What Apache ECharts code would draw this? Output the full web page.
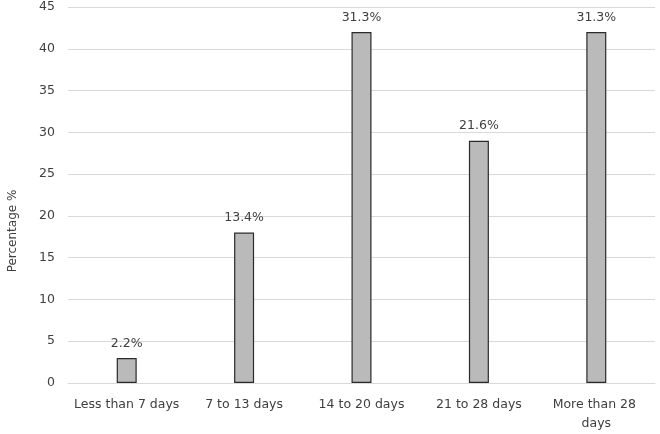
<!DOCTYPE html>
<html>

<head>
	<meta charset="utf-8" />
	<title>Percentage by duration</title>
	<script src="https://cdn.jsdelivr.net/npm/echarts@6/dist/echarts.min.js"></script>
	<style>
		* {
			margin: 0;
			padding: 0;
		}

		html,
		body {
			width: 660px;
			height: 434px;
			background: #fff;
		}

		#main {
			width: 660px;
			height: 434px;
		}
	</style>
</head>

<body>
	<div id="main"></div>
	<script>
		// 数据
		var categories = ['Less than 7 days', '7 to 13 days', '14 to 20 days', '21 to 28 days', 'More than 28 days'];
		var barValues = [3, 18, 42, 29, 42];
		var barLabels = ['2.2%', '13.4%', '31.3%', '21.6%', '31.3%'];
		var yTicks = [0, 45, 5]; // min, max, interval

		var myChart = echarts.init(document.getElementById('main'));
		var font = 'DejaVu Sans';

		var option = {
			animation: false,
			grid: {
				left: 68,
				right: 5,
				top: 7,
				bottom: 51,
				outerBoundsMode: 'none',
				containLabel: false
			},
			xAxis: {
				type: 'category',
				data: categories,
				axisTick: { show: false },
				axisLine: { lineStyle: { color: '#d9d9d9', width: 1 } },
				axisLabel: {
					interval: 0,
					color: '#404040',
					fontFamily: font,
					fontSize: 12.5,
					margin: 12,
					width: 110,
					overflow: 'break',
					lineHeight: 19
				}
			},
			yAxis: {
				type: 'value',
				min: yTicks[0],
				max: yTicks[1],
				interval: yTicks[2],
				name: 'Percentage %',
				nameLocation: 'middle',
				nameGap: 49,
				nameMoveOverlap: false,
				nameTextStyle: {
					color: '#404040',
					fontFamily: font,
					fontSize: 12,
					padding: [0, 72, 0, 0]
				},
				axisLine: { show: false },
				axisTick: { show: false },
				axisLabel: {
					color: '#404040',
					fontFamily: font,
					fontSize: 12.5,
					margin: 13
				},
				splitLine: { lineStyle: { color: '#d9d9d9', width: 1 } }
			},
			series: [
				{
					type: 'bar',
					data: barValues,
					barWidth: 20,
					itemStyle: {
						color: '#bababa',
						borderColor: '#2b2b2b',
						borderWidth: 1.2
					},
					label: {
						show: true,
						position: 'top',
						distance: 8,
						color: '#404040',
						fontFamily: font,
						fontSize: 12.5,
						formatter: function (p) {
							return barLabels[p.dataIndex];
						}
					}
				}
			]
		};
		myChart.setOption(option);
	</script>
</body>

</html>
